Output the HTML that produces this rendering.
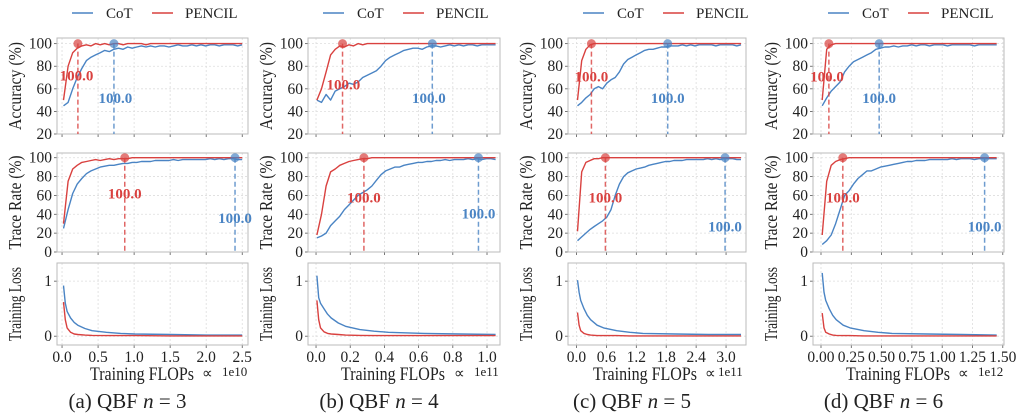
<!DOCTYPE html>
<html><head><meta charset="utf-8">
<style>
body{margin:0;background:#fff;}
svg{display:block;font-family:"Liberation Serif",serif;}
</style></head>
<body>
<svg id="fig" width="1024" height="419" viewBox="0 0 1024 419" xmlns="http://www.w3.org/2000/svg"></svg>
<script>
// ---------- data ----------
const panelIds = ['a','b','c','d'];
const panelN = ['3','4','5','6'];
const xExp = ['1e10','1e11','1e11','1e12'];
const xTicksA = [0,0.5,1.0,1.5,2.0,2.5];
const xTicksB = [0,0.2,0.4,0.6,0.8,1.0];
const xTicksC = [0,0.6,1.2,1.8,2.4,3.0];
const xTicksD = [0,0.25,0.5,0.75,1.0,1.25,1.5];
const xTickLabA = ['0.0','0.5','1.0','1.5','2.0','2.5'];
const xTickLabB = ['0.0','0.2','0.4','0.6','0.8','1.0'];
const xTickLabC = ['0.0','0.6','1.2','1.8','2.4','3.0'];
const xTickLabD = ['0.00','0.25','0.50','0.75','1.00','1.25','1.50'];
const xStart = [0.02,0.005,0.02,0.01];
const xEnd = [2.5,1.05,3.3,1.45];
const accTicks = [20,40,60,80,100];
const traceTicks = [0,20,40,60,80,100];
const lossTicks = [0,1];

const accCotA = [45,48,60,70,78,85,88,90,92,94,93,95,96,95,97,96,97,98,97,98,97,98,98,97,98,99,98,98,99,98,99,98,99,99,98,99,99,99,98,99];
const accPenA = [50,80,92,96,98,99,98,100,99,100,99,100,100,99,100,100,100,100,99,100,100,100,100,100,100,100,100,100,100,100,100,100,100,100,100,100,100,100,100,100];
const trCotA = [25,45,62,72,78,83,86,88,90,91,92,92,93,94,94,95,95,96,96,96,97,97,97,97,98,97,98,98,98,98,98,98,99,98,99,98,99,99,98,98];
const trPenA = [30,75,88,92,95,96,97,98,97,98,99,98,99,99,99,100,100,100,100,100,100,100,100,100,100,100,100,100,100,100,100,100,100,100,100,100,100,100,100,100];
const accCotB = [50,48,55,50,58,60,62,65,64,66,70,72,74,76,80,85,88,90,92,94,95,96,96,95,97,98,98,97,98,99,98,99,98,99,99,98,99,99,99,99];
const accPenB = [50,60,75,90,95,98,97,99,98,100,99,100,100,100,100,100,100,100,100,100,100,100,100,100,100,100,100,100,100,100,100,100,100,100,100,100,100,100,100,100];
const trCotB = [15,17,20,28,33,38,45,50,55,60,63,66,70,76,82,86,88,90,90,92,93,94,95,95,96,96,97,97,98,97,98,98,98,99,98,99,98,99,99,98];
const trPenB = [18,40,70,85,88,92,94,96,97,98,99,99,100,100,100,100,100,100,100,100,100,100,100,100,100,100,100,100,100,100,100,100,100,100,100,100,100,100,100,100];
const accCotC = [45,48,52,55,60,62,60,65,68,70,75,82,86,88,90,92,94,95,95,96,97,97,98,98,98,99,98,99,98,99,99,99,99,98,99,99,99,99,98,99];
const accPenC = [50,85,95,99,100,100,100,100,100,100,100,100,100,100,100,100,100,100,100,100,100,100,100,100,100,100,100,100,100,100,100,100,100,100,100,100,100,100,100,100];
const trCotC = [12,16,20,24,27,30,33,37,45,60,72,80,84,86,88,89,90,92,93,94,95,96,96,97,97,97,98,98,98,98,98,99,98,99,98,99,99,99,98,98];
const trPenC = [22,85,95,97,99,99,100,100,100,100,100,100,100,100,100,100,100,100,100,100,100,100,100,100,100,100,100,100,100,100,100,100,100,100,100,100,100,100,100,100];
const accCotD = [45,52,58,62,66,75,80,84,86,88,90,92,95,96,97,97,98,97,98,98,99,98,99,99,98,99,99,99,98,99,99,99,99,99,98,99,99,99,99,99];
const accPenD = [50,95,99,100,100,100,100,100,100,100,100,100,100,100,100,100,100,100,100,100,100,100,100,100,100,100,100,100,100,100,100,100,100,100,100,100,100,100,100,100];
const trCotD = [8,12,18,30,45,60,65,72,78,82,86,86,88,90,91,92,93,94,95,96,96,97,97,97,98,98,98,98,98,99,98,99,99,99,98,99,99,99,99,99];
const trPenD = [18,75,92,96,98,99,100,100,100,100,100,100,100,100,100,100,100,100,100,100,100,100,100,100,100,100,100,100,100,100,100,100,100,100,100,100,100,100,100,100];

const lossFrac = [0,0.01,0.02,0.04,0.06,0.08,0.12,0.16,0.24,0.32,0.4,0.6,0.8,1.0];
const lossCotA = [0.92,0.6,0.45,0.33,0.25,0.2,0.14,0.1,0.07,0.05,0.04,0.03,0.02,0.02];
const lossPenA = [0.62,0.3,0.15,0.07,0.04,0.03,0.02,0.015,0.01,0.01,0.01,0.005,0.005,0.005];
const lossCotB = [1.1,0.7,0.6,0.5,0.4,0.33,0.24,0.18,0.12,0.09,0.07,0.05,0.04,0.03];
const lossPenB = [0.65,0.3,0.15,0.08,0.05,0.04,0.03,0.02,0.015,0.01,0.01,0.01,0.01,0.01];
const lossCotC = [1.02,0.8,0.65,0.5,0.38,0.3,0.2,0.15,0.1,0.07,0.05,0.04,0.03,0.03];
const lossPenC = [0.43,0.2,0.1,0.05,0.03,0.02,0.01,0.01,0.01,0.005,0.005,0.005,0.005,0.005];
const lossCotD = [1.15,0.8,0.65,0.5,0.38,0.3,0.2,0.15,0.1,0.07,0.05,0.04,0.03,0.02];
const lossPenD = [0.42,0.15,0.07,0.04,0.02,0.015,0.01,0.01,0.005,0.005,0.005,0.005,0.005,0.005];

const accBestPen = [0.22,0.155,0.3,0.065];
const accBestCot = [0.72,0.68,1.83,0.48];
const trBestPen = [0.87,0.28,0.58,0.18];
const trBestCot = [2.4,0.95,2.98,1.35];
const accLabPen = [[0.2,72],[0.16,64],[0.3,71],[0.05,71]];
const accLabCot = [[0.74,52],[0.66,52],[1.83,52],[0.48,52]];
const trLabPen = [[0.87,62],[0.28,58],[0.58,58],[0.18,58]];
const trLabCot = [[2.4,36],[0.95,41],[2.98,27],[1.35,27]];

// ---------- layout ----------
const BL=[57,308,568,813], BR=[248,500,746,1004];
const XLIM=[[-0.07,2.58],[-0.047,1.076],[-0.17,3.4],[-0.066,1.51]];
const XLAB_OFF=[33,33,25,33], PROP_OFF=[46,46,41,46], EXP_OFF=[26,26,28,26];
const ROWS=[{t:38,b:134,lo:20,hi:105},{t:153,b:252,lo:0,hi:105},{t:263,b:345,lo:-0.16,hi:1.33}];
const YLEN=[88,94,74];
const BLUE='#4a84c4', RED='#d9413f';
const svg=document.getElementById('fig');
const NS='http://www.w3.org/2000/svg';
function mk(tag,attrs,parent,text){const e=document.createElementNS(NS,tag);for(const k in attrs)e.setAttribute(k,attrs[k]);if(text!==undefined)e.textContent=text;(parent||svg).appendChild(e);return e;}

const accCot=[accCotA,accCotB,accCotC,accCotD], accPen=[accPenA,accPenB,accPenC,accPenD];
const trCot=[trCotA,trCotB,trCotC,trCotD], trPen=[trPenA,trPenB,trPenC,trPenD];
const lossCot=[lossCotA,lossCotB,lossCotC,lossCotD], lossPen=[lossPenA,lossPenB,lossPenC,lossPenD];
const xTicks=[xTicksA,xTicksB,xTicksC,xTicksD], xTickLab=[xTickLabA,xTickLabB,xTickLabC,xTickLabD];

for(let p=0;p<4;p++){
  const g=mk('g',{});
  
  
  const L=BL[p],R=BR[p];
  const sx=v=>L+(v-XLIM[p][0])/(XLIM[p][1]-XLIM[p][0])*(R-L);
  const lg=mk('g',{},g);
  
  
  mk('line',{x1:L+15,x2:L+36,y1:13,y2:13,stroke:BLUE,'stroke-width':1.5},lg);
  mk('text',{x:L+49,y:18,'font-size':15,fill:'#222'},lg,'CoT');
  mk('line',{x1:L+95,x2:L+116,y1:13,y2:13,stroke:RED,'stroke-width':1.5},lg);
  mk('text',{x:L+128,y:18,'font-size':15,fill:'#222'},lg,'PENCIL');

  ROWS.forEach((row,r)=>{
    const sy=v=>row.b-(v-row.lo)/(row.hi-row.lo)*(row.b-row.t);
    const ax=mk('g',{},g);
    
    
    const yt=[accTicks,traceTicks,lossTicks][r];
    xTicks[p].forEach(t=>{mk('line',{x1:sx(t),x2:sx(t),y1:row.t,y2:row.b,stroke:'#ddd','stroke-width':0.8,'stroke-dasharray':'2,2'},ax);
      mk('line',{x1:sx(t),x2:sx(t),y1:row.b,y2:row.b+3,stroke:'#555','stroke-width':0.8},ax);});
    yt.forEach(t=>{mk('line',{x1:L,x2:R,y1:sy(t),y2:sy(t),stroke:'#ddd','stroke-width':0.8,'stroke-dasharray':'2,2'},ax);
      mk('line',{x1:L-3,x2:L,y1:sy(t),y2:sy(t),stroke:'#555','stroke-width':0.8},ax);
      mk('text',{x:L-5,y:sy(t)+5,'font-size':15.5,'text-anchor':'end',fill:'#222'},ax,String(t));});
    mk('rect',{x:L,y:row.t,width:R-L,height:row.b-row.t,fill:'none',stroke:'#bbb','stroke-width':1},ax);
    const yl=['Accuracy (%)','Trace Rate (%)','Training Loss'][r];
    const cy=(row.t+row.b)/2, cx=L-36;
    mk('text',{x:cx,y:cy,'font-size':18,'text-anchor':'middle',fill:'#222',textLength:YLEN[r],lengthAdjust:'spacingAndGlyphs',transform:`rotate(-90 ${cx} ${cy})`},ax,yl);
    let series;
    if(r<2){
      const cot=[accCot,trCot][r][p], pen=[accPen,trPen][r][p];
      const n=cot.length, step=(xEnd[p]-xStart[p])/(n-1);
      const pts=a=>a.map((v,i)=>sx(xStart[p]+i*step).toFixed(1)+','+sy(v).toFixed(1)).join(' ');
      series=[[cot,BLUE,'cot',pts(cot)],[pen,RED,'pencil',pts(pen)]];
    } else {
      const pts=a=>a.map((v,i)=>sx(xStart[p]+lossFrac[i]*(xEnd[p]-xStart[p])).toFixed(1)+','+sy(v).toFixed(1)).join(' ');
      series=[[lossCot[p],BLUE,'cot',pts(lossCot[p])],[lossPen[p],RED,'pencil',pts(lossPen[p])]];
    }
    series.forEach(s=>{const pl=mk('polyline',{points:s[3],fill:'none',stroke:s[1],'stroke-width':1.4,'stroke-linejoin':'round'},ax);
      
      });
    if(r<2){
      const bests=r===0?[[accBestPen[p],RED,accLabPen[p]],[accBestCot[p],BLUE,accLabCot[p]]]:[[trBestPen[p],RED,trLabPen[p]],[trBestCot[p],BLUE,trLabCot[p]]];
      bests.forEach(b=>{
        mk('line',{x1:sx(b[0]),x2:sx(b[0]),y1:sy(100),y2:row.b,stroke:b[1],'stroke-width':1.5,'stroke-dasharray':'5,3',opacity:0.8},ax);
        const c=mk('circle',{cx:sx(b[0]),cy:sy(100),r:4.5,fill:b[1],opacity:0.7},ax);
        
        
        const t=mk('text',{x:sx(b[2][0]),y:sy(b[2][1])+5,'font-size':15,'font-weight':'bold','text-anchor':'middle',fill:b[1]},ax,'100.0');
        
        
      });
    } else {
      xTicks[p].forEach((t,i)=>mk('text',{x:sx(t),y:row.b+17,'font-size':15.5,'text-anchor':'middle',fill:'#222'},ax,xTickLab[p][i]));
      const xl=mk('text',{x:L+XLAB_OFF[p],y:row.b+35,'font-size':19,fill:'#222',textLength:104,lengthAdjust:'spacingAndGlyphs'},ax,'Training FLOPs');
      
      
      mk('text',{x:R-PROP_OFF[p],y:row.b+33,'font-size':15,fill:'#222'},ax,'∝');
      mk('text',{x:R-EXP_OFF[p],y:row.b+31,'font-size':13,fill:'#222'},ax,xExp[p]);
    }
  });
  const cap=mk('text',{x:(L+R)/2-25,y:408,'font-size':21,'text-anchor':'middle',fill:'#222'},g);
  
  
  mk('tspan',{},cap,'('+panelIds[p]+')  QBF ');
  mk('tspan',{'font-style':'italic'},cap,'n');
  mk('tspan',{},cap,' = '+panelN[p]);
}
</script>
</body></html>
